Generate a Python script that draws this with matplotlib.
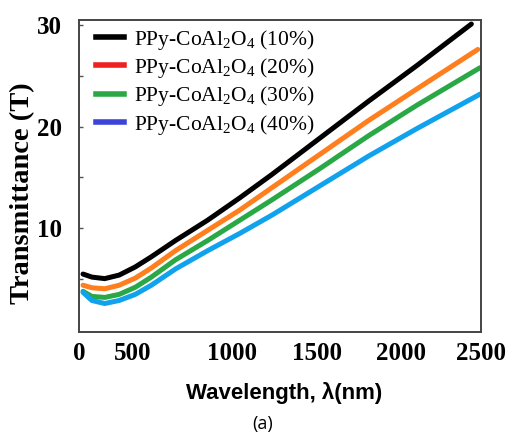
import matplotlib
matplotlib.use('Agg')
import matplotlib.pyplot as plt

############################################
#   Data
############################################
wl_black  = [25, 80, 160, 250, 350, 450, 600, 700, 800, 1000, 1200, 1500, 1800, 2100, 2440]
T_black   = [5.5, 5.2, 5.05, 5.4, 6.2, 7.2, 8.8, 9.8, 10.8, 13.0, 15.3, 18.9, 22.5, 26.0, 30.1]

wl_orange = [25, 80, 160, 250, 350, 450, 600, 700, 800, 1000, 1200, 1500, 1800, 2100, 2480]
T_orange  = [4.4, 4.15, 4.05, 4.4, 5.1, 6.1, 7.8, 8.8, 9.8, 11.8, 14.0, 17.3, 20.6, 23.7, 27.6]

wl_green  = [25, 80, 160, 250, 350, 450, 600, 700, 800, 1000, 1200, 1500, 1800, 2100, 2494]
T_green   = [3.8, 3.3, 3.2, 3.5, 4.2, 5.2, 6.9, 7.85, 8.8, 10.8, 12.8, 15.9, 19.1, 22.1, 25.8]

wl_blue   = [25, 80, 160, 250, 350, 450, 600, 700, 800, 1000, 1200, 1500, 1800, 2100, 2494]
T_blue    = [3.7, 2.9, 2.6, 2.9, 3.5, 4.4, 6.0, 6.9, 7.8, 9.5, 11.3, 14.2, 17.1, 19.8, 23.2]

labels = [r'PPy-CoAl$_2$O$_4$ (10%)',
          r'PPy-CoAl$_2$O$_4$ (20%)',
          r'PPy-CoAl$_2$O$_4$ (30%)',
          r'PPy-CoAl$_2$O$_4$ (40%)']

xtick_pos    = [0, 336, 950, 1480, 2000, 2500]
xtick_labels = ['0', '500', '1000', '1500', '2000', '2500']
ytick_pos    = [10, 20, 30]

line_colors   = ['black', '#ff7f1e', '#2aa845', '#10a2ec']
legend_colors = ['black', '#ee2020', '#2aa845', '#3a44d8']

############################################
#   Figure setup
############################################
plt.rcParams['mathtext.fontset'] = 'custom'
plt.rcParams['mathtext.rm'] = 'Liberation Serif'
plt.rcParams['mathtext.it'] = 'Liberation Serif:italic'

fig = plt.figure(figsize=(5.14, 4.33), dpi=100, facecolor='white')
ax = fig.add_axes([0.1537, 0.2333, 0.7821, 0.7206])

series = [(wl_black, T_black), (wl_orange, T_orange), (wl_green, T_green), (wl_blue, T_blue)]
for (wl, T), c in zip(series, line_colors):
    ax.plot(wl, T, '-', color=c, lw=3.6, solid_capstyle='round', solid_joinstyle='round')

ax.set_xlim(0, 2500)
ax.set_ylim(-0.2, 30.5)

ax.set_xticks(xtick_pos)
ax.set_xticklabels(xtick_labels, family='Liberation Serif', weight='bold', fontsize=18)
ax.set_yticks(ytick_pos)
ax.set_yticklabels([str(v) for v in ytick_pos], family='Liberation Serif', weight='bold', fontsize=18)
ax.set_yticks([5, 15, 25], minor=True)
ax.tick_params(axis='x', length=0, pad=7)
ax.tick_params(axis='y', which='both', direction='in', length=3, width=1, pad=12, color='#555555')

for s in ax.spines.values():
    s.set_color('#444444')
    s.set_linewidth(1.4)

ax.set_ylabel('Transmittance (T)', family='Liberation Serif', weight='bold', fontsize=20.5)
ax.yaxis.set_label_coords(-0.11, 0.445)
ax.set_xlabel('Wavelength, λ(nm)', family='Liberation Sans', weight='bold', fontsize=16)
ax.xaxis.set_label_coords(0.51, -0.16)

# legend with its own handle colours (they differ from the lines)
handles = [plt.Line2D([], [], color=c, lw=4) for c in legend_colors]
leg = ax.legend(handles, labels, loc='upper left', frameon=False,
                prop={'family': 'Liberation Serif', 'size': 15.5},
                handlelength=1.3, handletextpad=0.5, labelspacing=0.2,
                borderaxespad=0.0, bbox_to_anchor=(0.02, 1.003))

fig.text(0.51, 0.0, '(a)', ha='center', va='bottom', fontsize=13, family='Open Sans')

fig.savefig('out.png', dpi=100)
